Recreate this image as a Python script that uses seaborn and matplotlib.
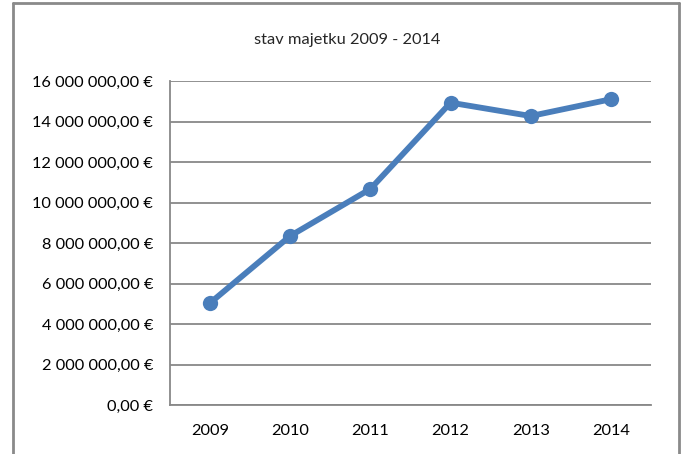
import matplotlib
matplotlib.use("Agg")
import matplotlib.pyplot as plt
import seaborn as sns
import pandas as pd
from matplotlib.ticker import FuncFormatter, MultipleLocator
from matplotlib.lines import Line2D

years = ["2009", "2010", "2011", "2012", "2013", "2014"]
values = [5040000, 8350000, 10670000, 14930000, 14270000, 15100000]
title = "stav majetku 2009 - 2014"

sns.set_style("white")
plt.rcParams["font.family"] = ["Lato", "DejaVu Sans"]

df = pd.DataFrame({"pos": range(len(years)), "year": years, "value": values})

fig = plt.figure(figsize=(6.84, 4.54), dpi=100)
ax = fig.add_axes([170/684, 49/454, (651-170)/684, (405-81)/454])

sns.lineplot(data=df, x="pos", y="value", ax=ax, color="#4A7EBB",
             linewidth=4.2, marker="o", markersize=11, markeredgewidth=0,
             sort=False)

ax.set_xlim(-0.5, len(years) - 0.5)
ax.set_ylim(0, 16000000)
ax.yaxis.set_major_locator(MultipleLocator(2000000))
ax.set_xticks(list(df["pos"]))
ax.set_xticklabels(years)

def fmt(v, p):
    s = f"{v:,.2f}".replace(",", " ").replace(".", ",")
    return s + " €"
ax.yaxis.set_major_formatter(FuncFormatter(fmt))

ax.grid(axis="y", color="#888888", linewidth=1.3)
ax.set_axisbelow(True)
for s in ["top", "right"]:
    ax.spines[s].set_visible(False)
for s in ["left", "bottom"]:
    ax.spines[s].set_color("#888888")
    ax.spines[s].set_linewidth(1.3)
ax.tick_params(axis="both", length=0, labelsize=11.8, colors="#000000")
ax.tick_params(axis="y", pad=12)
ax.tick_params(axis="x", pad=14)
ax.set_xlabel("")
ax.set_ylabel("")

fig.text(347/684, 1 - 40/454, title, ha="center", va="center", fontsize=11.8)

# outer chart border (left, top, right)
c = "#8a8a8a"
lw = 2
x0, x1 = 13/684, 679/684
yt = 1 - 3/454
fig.add_artist(Line2D([x0, x0], [0, yt], transform=fig.transFigure, color=c, lw=lw))
fig.add_artist(Line2D([x1, x1], [0, yt], transform=fig.transFigure, color=c, lw=lw))
fig.add_artist(Line2D([x0, x1], [yt, yt], transform=fig.transFigure, color=c, lw=lw))

fig.savefig("out.png", dpi=100)
